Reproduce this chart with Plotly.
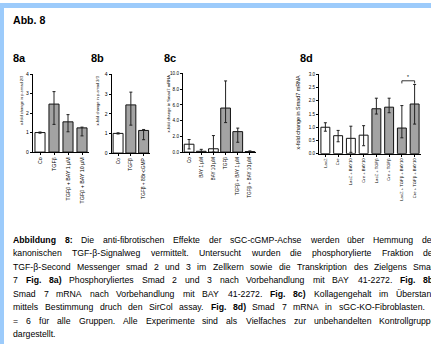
import plotly.graph_objects as go

W_PX, H_PX = 431, 347

# ---------------- data ----------------
a_cats = ["Co", "TGFβ", "TGFβ + BAY 1 µM", "TGFβ + BAY 10 µM"]
a_vals = [1.0, 2.46, 1.55, 1.24]
a_hi = [1.03, 3.1, 1.92, 1.28]
a_lo = [0.97, 1.42, 1.04, 0.83]
a_grp = [0, 1, 1, 1]

b_cats = ["Co", "TGFβ", "TGFβ + 8Br-cGMP"]
b_vals = [1.0, 2.45, 1.15]
b_hi = [1.03, 3.1, 1.2]
b_lo = [0.97, 1.42, 0.68]
b_grp = [0, 1, 1]

c_cats = ["Co", "BAY 1 µM", "BAY 10 µM", "TGFβ", "TGFβ + BAY 1 µM", "TGFβ + BAY 10 µM"]
c_vals = [1.0, 0.1, 0.42, 5.6, 2.6, 0.06]
c_hi = [1.6, 0.35, 2.1, 9.05, 3.05, 0.15]
c_lo = [0.4, 0.0, 0.0, 3.75, 1.25, 0.0]
c_grp = [0, 0, 0, 1, 1, 1]

d_cats = ["LacZ", "Cre", "LacZ + BAY10", "Cre + BAY10", "LacZ + TGFβ", "Cre + TGFβ",
          "LacZ + TGFβ + BAY10", "Cre + TGFβ + BAY10"]
d_vals = [1.0, 0.68, 0.58, 0.7, 1.7, 1.76, 0.97, 1.88]
d_hi = [1.17, 0.88, 1.04, 1.06, 2.1, 2.1, 1.82, 2.62]
d_lo = [0.85, 0.45, 0.05, 0.3, 1.5, 1.55, 0.6, 1.12]
d_grp = [0, 0, 0, 0, 1, 1, 1, 1]
d_sig = (6, 7, "*")

y_titles = ["x-fold change in p-smad 2/3", "x-fold change in p-smad 2/3",
            "x-fold change in Smad7 mRNA", "x-fold change in Smad7 mRNA"]
panel_labels = ["8a", "8b", "8c", "8d"]

caption = [
    [("Abbildung 8:", True), ("Die anti-fibrotischen Effekte der sGC-cGMP-Achse werden über Hemmung des", False)],
    [("kanonischen TGF-β-Signalweg vermittelt. Untersucht wurden die phosphorylierte Fraktion der", False)],
    [("TGF-β-Second Messenger smad 2 und 3 im Zellkern sowie die Transkription des Zielgens Smad", False)],
    [("7", False), ("Fig. 8a)", True), ("Phosphoryliertes Smad 2 und 3 nach Vorbehandlung mit BAY 41-2272.", False), ("Fig. 8b)", True)],
    [("Smad 7 mRNA nach Vorbehandlung mit BAY 41-2272.", False), ("Fig. 8c)", True), ("Kollagengehalt im Überstand", False)],
    [("mittels Bestimmung druch den SirCol assay.", False), ("Fig. 8d)", True), ("Smad 7 mRNA in sGC-KO-Fibroblasten. n", False)],
    [("= 6 für alle Gruppen. Alle Experimente sind als Vielfaches zur unbehandelten Kontrollgruppe", False)],
    [("dargestellt.", False)],
]

# ---------------- style ----------------
FONT = "Liberation Sans, Arial, sans-serif"
GRAY = "#a3a3a3"
BLUE = "#9ccbfb"


def px(x):
    return x / W_PX


def py(y):
    return 1 - y / H_PX


panels = [
    dict(cats=a_cats, vals=a_vals, hi=a_hi, lo=a_lo, grp=a_grp, xd=(33, 89), yd=(72.3, 151.7),
         yr=4, dtick=1, fmt="d", fs=5.3, tfs=5.0, w=0.72, title_x=21, title_fs=4.0, lab=(12, 56)),
    dict(cats=b_cats, vals=b_vals, hi=b_hi, lo=b_lo, grp=b_grp, xd=(111.7, 150), yd=(72.7, 152.7),
         yr=4, dtick=1, fmt="d", fs=4.9, tfs=5.0, w=0.78, title_x=97, title_fs=4.0, lab=(90, 56)),
    dict(cats=c_cats, vals=c_vals, hi=c_hi, lo=c_lo, grp=c_grp, xd=(183, 256), yd=(71.7, 151.7),
         yr=10, dtick=2, fmt=".1f", fs=4.7, tfs=4.6, w=0.8, title_x=168, title_fs=4.2, lab=(163, 56)),
    dict(cats=d_cats, vals=d_vals, hi=d_hi, lo=d_lo, grp=d_grp, xd=(319, 421), yd=(72.7, 153.3),
         yr=3, dtick=0.5, fmt=".1f", fs=4.2, tfs=4.5, w=0.7, title_x=298, title_fs=5.4, lab=(299, 56)),
]

fig = go.Figure()
layout = {}
annotations = []
shapes = []

for i, p in enumerate(panels):
    sfx = "" if i == 0 else str(i + 1)
    n = len(p["cats"])
    xs = list(range(n))
    colors = ["white" if g == 0 else GRAY for g in p["grp"]]
    fig.add_trace(go.Bar(
        x=xs, y=p["vals"], width=p["w"],
        marker=dict(color=colors, line=dict(color="#111111", width=1)),
        error_y=dict(type="data", symmetric=False,
                     array=[h - v for h, v in zip(p["hi"], p["vals"])],
                     arrayminus=[v - l for v, l in zip(p["vals"], p["lo"])],
                     color="#222222", thickness=1, width=1.5),
        xaxis="x" + sfx, yaxis="y" + sfx, showlegend=False, hoverinfo="skip",
    ))
    layout["xaxis" + sfx] = dict(
        domain=[px(p["xd"][0]), px(p["xd"][1])], range=[-0.5, n - 0.5], anchor="y" + sfx,
        tickmode="array", tickvals=xs, ticktext=p["cats"], tickangle=-90,
        showline=True, linecolor="black", linewidth=1.2, ticks="outside", ticklen=2,
        tickwidth=0.8, tickcolor="black", showgrid=False, zeroline=False,
        tickfont=dict(family=FONT, size=p["fs"], color="black"), fixedrange=True,
    )
    layout["yaxis" + sfx] = dict(
        domain=[py(p["yd"][1]), py(p["yd"][0])], range=[0, p["yr"]], anchor="x" + sfx,
        dtick=p["dtick"], tick0=0, tickformat=p["fmt"],
        showline=True, linecolor="black", linewidth=1.2, ticks="outside", ticklen=2,
        tickwidth=0.8, tickcolor="black", showgrid=False, zeroline=False,
        tickfont=dict(family=FONT, size=p["tfs"], color="black"), fixedrange=True,
    )
    annotations.append(dict(
        text=y_titles[i], xref="paper", yref="paper", x=px(p["title_x"]),
        y=py(p["yd"][0]), xanchor="center", yanchor="top", textangle=-90, showarrow=False,
        font=dict(family=FONT, size=p["title_fs"], color="black"), borderpad=0,
    ))
    annotations.append(dict(
        text="<b>%s</b>" % panel_labels[i], xref="paper", yref="paper", x=px(p["lab"][0]),
        y=py(p["lab"][1]), xanchor="left", yanchor="middle", showarrow=False,
        font=dict(family=FONT, size=11, color="black"), borderpad=0,
    ))

# significance bracket on 8d
s0, s1, star = d_sig
top = max(d_hi[s0], d_hi[s1]) + 0.14
for seg in [(s0, top, s1, top), (s0, top, s0, top - 0.1), (s1, top, s1, top - 0.1)]:
    shapes.append(dict(type="line", xref="x4", yref="y4", x0=seg[0], y0=seg[1], x1=seg[2], y1=seg[3],
                       line=dict(color="black", width=0.8)))
annotations.append(dict(text=star, xref="x4", yref="y4", x=(s0 + s1) / 2, y=top, yanchor="bottom",
                        showarrow=False, font=dict(family=FONT, size=5, color="black"), borderpad=0))

# heading
annotations.append(dict(text="<b>Abb. 8</b>", xref="paper", yref="paper", x=px(12), y=py(17.5),
                        xanchor="left", yanchor="middle", showarrow=False,
                        font=dict(family=FONT, size=10.6, color="black"), borderpad=0))

# caption with justified word placement (Arial metrics)
REG = {' ': 278, '-': 333, '.': 278, ',': 278, ':': 278, '(': 333, ')': 333, '=': 584, '/': 278,
       'β': 575, 'ü': 556, 'Ü': 722, 'µ': 556}
for ch in "0123456789":
    REG[ch] = 556
REG.update(dict(zip("ABCDEFGHIJKLMNOPQRSTUVWXYZ",
                    [667, 667, 722, 722, 667, 611, 778, 722, 278, 500, 667, 556, 833, 722, 778, 667, 778,
                     722, 667, 611, 722, 667, 944, 667, 667, 611])))
REG.update(dict(zip("abcdefghijklmnopqrstuvwxyz",
                    [556, 556, 500, 556, 556, 278, 556, 556, 222, 222, 500, 222, 833, 556, 556, 556, 556,
                     333, 500, 278, 556, 500, 722, 500, 500, 500])))
BOLD = {' ': 278, '.': 278, ':': 333, ')': 333, '(': 333, 'A': 722, 'F': 611, 'a': 556, 'b': 611,
        'd': 611, 'g': 611, 'i': 278, 'l': 278, 'n': 611, 'u': 611, 'e': 556, 'c': 556}
for ch in "0123456789":
    BOLD[ch] = 556

CFS = 8.7
LEFT, RIGHT = 12, 435
for li, segs in enumerate(caption):
    words = []
    for text, bold in segs:
        for w in text.split(" "):
            tab = BOLD if bold else REG
            wid = sum(tab.get(ch, 556) for ch in w) / 1000 * CFS
            words.append((w, bold, wid))
    total = sum(w[2] for w in words)
    if li == len(caption) - 1 or len(words) < 2:
        gap = REG[' '] / 1000 * CFS
    else:
        gap = (RIGHT - LEFT - total) / (len(words) - 1)
    x = LEFT
    yc = 241 + 13.7 * li
    for w, bold, wid in words:
        annotations.append(dict(
            text=("<b>%s</b>" % w) if bold else w, xref="paper", yref="paper", x=px(x), y=py(yc),
            xanchor="left", yanchor="middle", showarrow=False, borderpad=0,
            font=dict(family=FONT, size=CFS, color="black"),
        ))
        x += wid + gap

# blue frame
shapes.append(dict(type="rect", xref="paper", yref="paper", x0=0, x1=1, y0=py(5), y1=1,
                   fillcolor=BLUE, line=dict(width=0), layer="below"))
shapes.append(dict(type="rect", xref="paper", yref="paper", x0=0, x1=px(4), y0=0, y1=1,
                   fillcolor=BLUE, line=dict(width=0), layer="below"))

fig.update_layout(
    width=W_PX, height=H_PX, autosize=False,
    margin=dict(l=0, r=0, t=0, b=0, pad=0),
    paper_bgcolor="white", plot_bgcolor="rgba(0,0,0,0)",
    annotations=annotations, shapes=shapes, showlegend=False,
    **layout,
)

fig.write_html("out.html", config={"displayModeBar": False},
               post_script="document.body.style.margin='0';document.body.style.overflow='hidden';")
